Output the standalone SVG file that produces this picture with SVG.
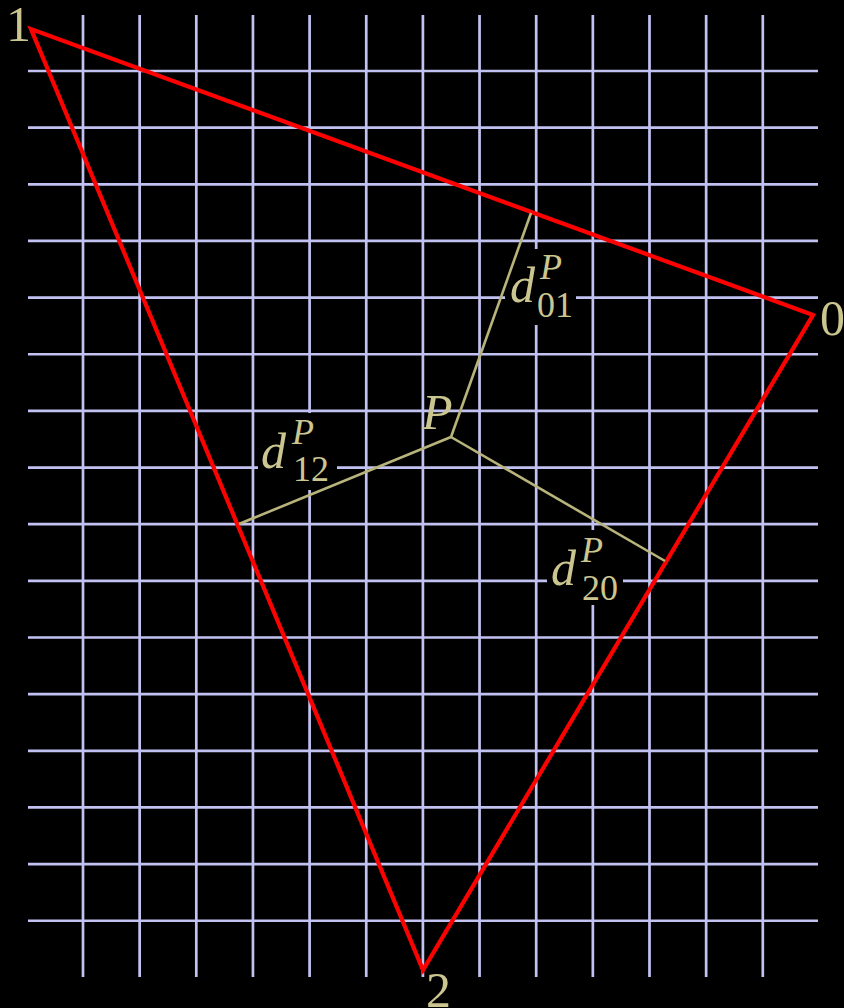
<svg xmlns="http://www.w3.org/2000/svg" width="844" height="1008" viewBox="0 0 844 1008">
<style>
.grid{stroke:#c2c2f2;stroke-width:2.7;fill:none}
.tri{stroke:#ff0000;stroke-width:4.2;fill:none;stroke-linejoin:miter}
.dist{stroke:#b8b47c;stroke-width:2.6;fill:none}
.lbl{font-family:"Liberation Serif","DejaVu Serif",serif;fill:#cbc690}
.big{font-size:50px}
.scr{font-size:36px}
.it{font-style:italic}
.bg{fill:#000000}
</style>
<rect width="844" height="1008" fill="#000000"/>
<g id="grid">
<path class="grid" d="M83 15V977M139.65 15V977M196.3 15V977M252.95 15V977M309.6 15V977M366.25 15V977M422.9 15V977M479.55 15V977M536.2 15V977M592.85 15V977M649.5 15V977M706.15 15V977M762.8 15V977"/>
<path class="grid" d="M28 71H818M28 127.65H818M28 184.3H818M28 240.95H818M28 297.6H818M28 354.25H818M28 410.9H818M28 467.55H818M28 524.2H818M28 580.85H818M28 637.5H818M28 694.15H818M28 750.8H818M28 807.45H818M28 864.1H818M28 920.75H818"/>
</g>
<g id="label-bg">
<rect class="bg" x="258" y="413" width="79" height="77"/>
<rect class="bg" x="505" y="249" width="71" height="76"/>
<rect class="bg" x="547" y="530" width="76" height="75"/>
</g>
<g id="connectors">
<polygon id="triangle" class="tri" points="813,315 31,29 423,970"/>
<line id="d01" class="dist" x1="451" y1="437" x2="531" y2="213"/>
<line id="d12" class="dist" x1="451" y1="437" x2="239" y2="524"/>
<line id="d20" class="dist" x1="451" y1="437" x2="665" y2="561"/>
</g>
<g id="vertex-1"><text class="lbl big" x="31" y="41" text-anchor="end">1</text></g>
<g id="vertex-0"><text class="lbl big" x="820" y="335">0</text></g>
<g id="vertex-2"><text class="lbl big" x="426" y="1007">2</text></g>
<g id="point-P"><text class="lbl big it" x="422" y="429">P</text></g>
<g id="label-d12">
<text class="lbl big it" x="261" y="468">d</text>
<text class="lbl scr it" x="292" y="444">P</text>
<text class="lbl scr" x="293" y="481">12</text>
</g>
<g id="label-d01">
<text class="lbl big it" x="510" y="302">d</text>
<text class="lbl scr it" x="540" y="279">P</text>
<text class="lbl scr" x="537" y="317">01</text>
</g>
<g id="label-d20">
<text class="lbl big it" x="551" y="585">d</text>
<text class="lbl scr it" x="581" y="562">P</text>
<text class="lbl scr" x="582" y="600">20</text>
</g>
</svg>
